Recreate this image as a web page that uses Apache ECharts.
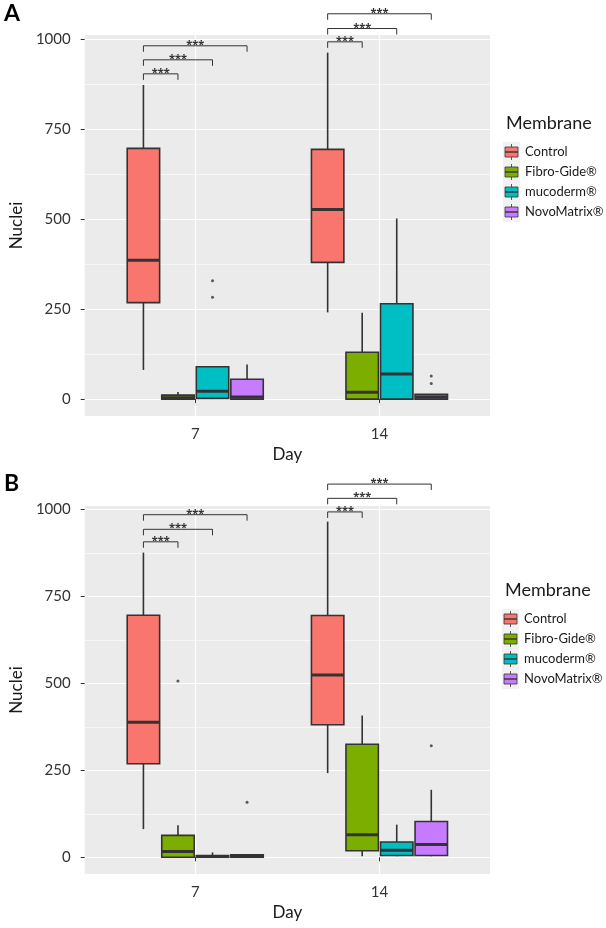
<!DOCTYPE html>
<html>
<head>
<meta charset="utf-8">
<script src="https://cdn.jsdelivr.net/npm/echarts@6/dist/echarts.min.js"></script>
<style>
    html, body { margin: 0; padding: 0; background: #fff; }
    #chart { width: 606px; height: 928px; }
</style>
</head>
<body>
<div id="chart"></div>
<script>
    const days = ['7', '14'];
    const membranes = ['Control', 'Fibro-Gide®', 'mucoderm®', 'NovoMatrix®'];
    const yTicks = [0, 250, 500, 750, 1000];
    const yMinorTicks = [125, 375, 625, 875];

    // [min, Q1, median, Q3, max] -> day 7, day 14
    const panelA_control = [[81, 268, 386, 697, 873], [241, 380, 527, 694, 963]];
    const panelA_fibro = [[0, 0, 4, 11, 20], [0, 0, 19, 130, 240]];
    const panelA_mucoderm = [[0, 2, 22, 90, 90], [0, 0, 70, 265, 502]];
    const panelA_novo = [[0, 0, 6, 55, 96], [0, 0, 6, 13, 13]];
    // [day index, membrane index, value]
    const panelA_outliers = [[0, 2, 329], [0, 2, 283], [1, 3, 64], [1, 3, 43]];
    // [day index, membrane compared with Control, bracket height]
    const panelA_signif = [[0, 1, 904], [0, 2, 943], [0, 3, 982], [1, 1, 993], [1, 2, 1030], [1, 3, 1071]];

    const panelB_control = [[81, 269, 388, 696, 876], [242, 381, 524, 695, 965]];
    const panelB_fibro = [[0, 0, 17, 63, 92], [3, 19, 65, 325, 408]];
    const panelB_mucoderm = [[0, 0, 2, 5, 14], [3, 5, 20, 44, 94]];
    const panelB_novo = [[0, 0, 4, 7, 7], [3, 5, 37, 103, 194]];
    const panelB_outliers = [[0, 1, 507], [0, 3, 158], [1, 3, 321]];
    const panelB_signif = [[0, 1, 907], [0, 2, 943], [0, 3, 985], [1, 1, 993], [1, 2, 1032], [1, 3, 1073]];

    const colors = ['#F8766D', '#7CAE00', '#00BFC4', '#C77CFF'];
    const LINE = '#333333';
    const DODGE = 0.1875;
    const BOX_W = 0.176;
    const FONT = 'Lato, "Open Sans", sans-serif';

    const panels = [
        { boxes: [panelA_control, panelA_fibro, panelA_mucoderm, panelA_novo], outliers: panelA_outliers, signif: panelA_signif },
        { boxes: [panelB_control, panelB_fibro, panelB_mucoderm, panelB_novo], outliers: panelB_outliers, signif: panelB_signif }
    ];

    function dodgeX(d, m) {
        return d + 1 + (m - 1.5) * DODGE;
    }

    function renderBox(params, api) {
        const x = api.value(0);
        const lo = api.coord([x, api.value(1)]);
        const q1 = api.coord([x, api.value(2)]);
        const md = api.coord([x, api.value(3)]);
        const q3 = api.coord([x, api.value(4)]);
        const hi = api.coord([x, api.value(5)]);
        const half = api.size([BOX_W, 0])[0] / 2;
        const cx = lo[0];
        const thin = { stroke: LINE, lineWidth: 1.6 };
        return {
            type: 'group',
            children: [
                { type: 'line', shape: { x1: cx, y1: q3[1], x2: cx, y2: hi[1] }, style: thin },
                { type: 'line', shape: { x1: cx, y1: q1[1], x2: cx, y2: lo[1] }, style: thin },
                { type: 'rect', shape: { x: cx - half, y: q3[1], width: half * 2, height: q1[1] - q3[1] },
                  style: { fill: api.visual('color'), stroke: LINE, lineWidth: 1.6 } },
                { type: 'line', shape: { x1: cx - half, y1: md[1], x2: cx + half, y2: md[1] },
                  style: { stroke: LINE, lineWidth: 3 } }
            ]
        };
    }

    function renderBracket(params, api) {
        const a = api.coord([api.value(0), api.value(2)]);
        const b = api.coord([api.value(1), api.value(2)]);
        const drop = 6;
        return {
            type: 'group',
            children: [
                { type: 'polyline', shape: { points: [[a[0], a[1] + drop], a, b, [b[0], b[1] + drop]] },
                  style: { stroke: LINE, lineWidth: 1, fill: null } },
                { type: 'text', x: (a[0] + b[0]) / 2, y: a[1] - 1,
                  style: { text: '***', fill: LINE, font: 'bold 11px "Open Sans", sans-serif', align: 'center', verticalAlign: 'middle' } }
            ]
        };
    }

    const grids = [
        { left: 73, top: 35, width: 417, height: 381 },
        { left: 82, top: 506, width: 408, height: 368 }
    ];
    const yRanges = [[-47, 1012], [-48, 1010]];

    let xAxis = [];
    let yAxis = [];
    let series = [];

    panels.forEach(function (p, pi) {
        xAxis.push({
            type: 'value', gridIndex: pi, min: 0.4, max: 2.6,
            name: 'Day', nameLocation: 'middle', nameGap: 30,
            nameTextStyle: { fontSize: 17, color: '#1a1a1a', fontFamily: FONT },
            axisLine: { show: false },
            axisTick: { show: true, length: 4, customValues: [1, 2], lineStyle: { color: LINE, width: 1 } },
            axisLabel: { customValues: [1, 2], margin: 11, fontSize: 15, color: '#333333', fontFamily: FONT,
                formatter: function (v) { return days[Math.round(v) - 1]; } },
            splitLine: { show: true, lineStyle: { color: '#ffffff', width: 1.2 } }
        });
        yAxis.push({
            type: 'value', gridIndex: pi, min: yRanges[pi][0], max: yRanges[pi][1],
            name: 'Nuclei', nameLocation: 'middle', nameGap: 53, nameRotate: 90,
            nameTextStyle: { fontSize: 17, color: '#1a1a1a', fontFamily: FONT },
            axisLine: { show: false },
            axisTick: { show: true, length: 4, customValues: yTicks, lineStyle: { color: LINE, width: 1 } },
            axisLabel: { customValues: yTicks, margin: 14, fontSize: 15, color: '#333333', fontFamily: FONT,
                formatter: function (v) { return String(v); } },
            splitLine: { show: true, lineStyle: { color: '#ffffff', width: 1.2 } }
        });
        yAxis.push({
            type: 'value', gridIndex: pi, min: yRanges[pi][0], max: yRanges[pi][1],
            axisLine: { show: false },
            axisTick: { show: false, customValues: yMinorTicks },
            axisLabel: { show: false, customValues: yMinorTicks },
            splitLine: { show: true, lineStyle: { color: '#ffffff', width: 0.6 } }
        });

        p.boxes.forEach(function (b, m) {
            series.push({
                name: membranes[m], type: 'custom', xAxisIndex: pi, yAxisIndex: pi * 2,
                itemStyle: { color: colors[m] },
                renderItem: renderBox,
                encode: { x: 0, y: [1, 2, 3, 4, 5] },
                data: b.map(function (v, d) { return [dodgeX(d, m)].concat(v); }),
                z: 3
            });
        });
        series.push({
            type: 'scatter', xAxisIndex: pi, yAxisIndex: pi * 2,
            symbolSize: 3, itemStyle: { color: LINE },
            data: p.outliers.map(function (o) { return [dodgeX(o[0], o[1]), o[2]]; }),
            z: 4
        });
        series.push({
            type: 'custom', xAxisIndex: pi, yAxisIndex: pi * 2, clip: false,
            renderItem: renderBracket,
            encode: { x: [0, 1], y: 2 },
            data: p.signif.map(function (s) { return [dodgeX(s[0], 0), dodgeX(s[0], s[1]), s[2]]; }),
            z: 5
        });
    });

    function legendGraphics(x, top) {
        let items = [{
            type: 'text', left: x + 3, top: top - 28,
            style: { text: 'Membrane', font: '18px ' + FONT, fill: '#1a1a1a' }
        }];
        membranes.forEach(function (name, m) {
            const y = top + m * 20;
            items.push({ type: 'rect', shape: { x: x, y: y, width: 17, height: 20 }, style: { fill: '#F2F2F2' } });
            items.push({ type: 'line', shape: { x1: x + 8.5, y1: y + 2, x2: x + 8.5, y2: y + 18 }, style: { stroke: LINE, lineWidth: 0.8 } });
            items.push({ type: 'rect', shape: { x: x + 2, y: y + 5, width: 13, height: 10 },
                style: { fill: colors[m], stroke: LINE, lineWidth: 0.8 } });
            items.push({ type: 'line', shape: { x1: x + 2, y1: y + 10, x2: x + 15, y2: y + 10 }, style: { stroke: LINE, lineWidth: 1.4 } });
            items.push({ type: 'text', x: x + 22, y: y + 10,
                style: { text: name, font: '13px ' + FONT, fill: '#1a1a1a', verticalAlign: 'middle' } });
        });
        return items;
    }

    let myChart = echarts.init(document.getElementById('chart'));

    let option = {
        animation: false,
        backgroundColor: '#ffffff',
        grid: grids.map(function (g) {
            return Object.assign({ show: true, backgroundColor: '#EBEBEB', borderWidth: 0 }, g);
        }),
        xAxis: xAxis,
        yAxis: yAxis,
        series: series,
        graphic: [
            { type: 'text', left: 4, top: 2, style: { text: 'A', font: 'bold 23px ' + FONT, fill: '#000' } },
            { type: 'text', left: 4, top: 472, style: { text: 'B', font: 'bold 23px ' + FONT, fill: '#000' } }
        ].concat(legendGraphics(503, 142)).concat(legendGraphics(502, 609))
    };

    myChart.setOption(option);
</script>
</body>
</html>
